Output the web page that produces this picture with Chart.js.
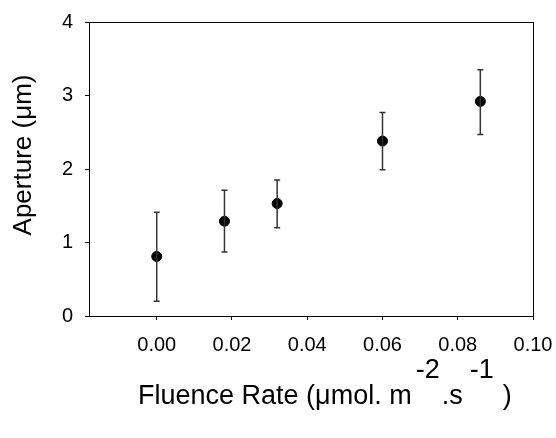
<!DOCTYPE html>
<html>
<head>
<meta charset="utf-8">
<script src="https://cdn.jsdelivr.net/npm/chart.js@4"></script>
<style>
  html, body { margin: 0; padding: 0; background: #fff; }
  #wrap { width: 556px; height: 438px; }
</style>
</head>
<body>
<div id="wrap"><canvas id="chart" width="556" height="438"></canvas></div>
<script>
// fluence rate vs aperture
const fluence = [0.000, 0.018, 0.032, 0.060, 0.086];
const aperture = [0.81, 1.29, 1.53, 2.38, 2.92];
const errTop = [1.41, 1.71, 1.85, 2.77, 3.35];
const errBottom = [0.20, 0.87, 1.20, 1.99, 2.47];
const xTicks = [0, 0.02, 0.04, 0.06, 0.08, 0.10];
const yTicks = [0, 1, 2, 3, 4];

const FONT = '"Liberation Sans", Arial, sans-serif';

// error bars + frame + axis titles
const extras = {
  id: 'extras',
  afterDatasetsDraw(chart) {
    const ctx = chart.ctx;
    const xs = chart.scales.x, ys = chart.scales.y;
    ctx.save();
    ctx.strokeStyle = '#333';
    ctx.lineWidth = 1.5;
    fluence.forEach((f, i) => {
      const px = xs.getPixelForValue(f);
      const t = ys.getPixelForValue(errTop[i]);
      const b = ys.getPixelForValue(errBottom[i]);
      ctx.beginPath();
      ctx.moveTo(px, t); ctx.lineTo(px, b);
      ctx.moveTo(px - 3, t); ctx.lineTo(px + 3, t);
      ctx.moveTo(px - 3, b); ctx.lineTo(px + 3, b);
      ctx.stroke();
    });
    ctx.restore();
  },
  afterDraw(chart) {
    const ctx = chart.ctx;
    const a = chart.chartArea;
    ctx.save();
    ctx.strokeStyle = '#000';
    ctx.lineWidth = 1;
    ctx.strokeRect(a.left + 0.5, a.top + 0.5, a.right - a.left, a.bottom - a.top);

    ctx.fillStyle = '#000';
    // y title
    ctx.font = '26px ' + FONT;
    ctx.save();
    ctx.translate(24, 155);
    ctx.rotate(-Math.PI / 2);
    ctx.textAlign = 'center';
    ctx.textBaseline = 'middle';
    ctx.fillText('Aperture (\u03bcm)', 0, 0);
    ctx.restore();

    // x title with raised exponents
    ctx.font = '27px ' + FONT;
    ctx.textAlign = 'left';
    ctx.textBaseline = 'alphabetic';
    const base = 404, sup = base - 26;
    let x = 138;
    const parts = [
      ['Fluence Rate (\u03bcmol. m', base, 4],
      ['-2', sup, 2],
      ['.s', base, 7],
      ['-1', sup, 9],
      [')', base, 0]
    ];
    parts.forEach(([txt, y, gap]) => {
      ctx.fillText(txt, x, y);
      x += ctx.measureText(txt).width + gap;
    });
    ctx.restore();
  }
};

new Chart(document.getElementById('chart'), {
  type: 'scatter',
  data: {
    datasets: [{
      data: fluence.map((f, i) => ({ x: f, y: aperture[i] })),
      backgroundColor: '#000',
      borderColor: '#000',
      pointRadius: 5,
      pointHoverRadius: 5
    }]
  },
  options: {
    responsive: false,
    animation: false,
    layout: { padding: { top: 22, right: 23, left: 0, bottom: 0 } },
    plugins: { legend: { display: false }, tooltip: { enabled: false } },
    scales: {
      x: {
        type: 'linear',
        min: -0.018,
        max: 0.10,
        afterBuildTicks: s => { s.ticks = xTicks.map(v => ({ value: v })); },
        afterFit: s => { s.height = 122; s.paddingLeft = 0; s.paddingRight = 0; },
        grid: { drawOnChartArea: false, drawTicks: true, tickLength: 4, color: '#000' },
        border: { display: true, color: '#000' },
        ticks: {
          color: '#000',
          padding: 13,
          maxRotation: 0,
          font: { family: FONT, size: 20 },
          callback: v => Number(v).toFixed(2)
        }
      },
      y: {
        min: 0,
        max: 4,
        afterBuildTicks: s => { s.ticks = yTicks.map(v => ({ value: v })); },
        afterFit: s => { s.width = 89; s.paddingTop = 0; s.paddingBottom = 0; },
        grid: { drawOnChartArea: false, drawTicks: true, tickLength: 4, color: '#000' },
        border: { display: true, color: '#000' },
        ticks: {
          color: '#000',
          padding: 12,
          font: { family: FONT, size: 20 },
          callback: v => String(v)
        }
      }
    }
  },
  plugins: [extras]
});
</script>
</body>
</html>
